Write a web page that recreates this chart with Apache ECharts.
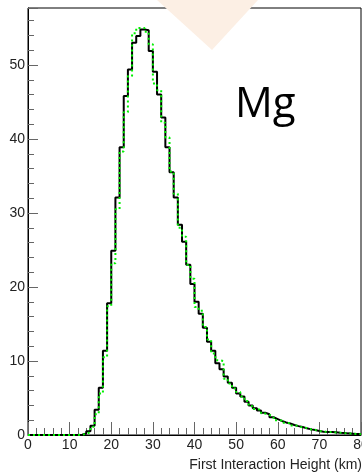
<!DOCTYPE html>
<html>
<head>
<meta charset="utf-8">
<script src="https://cdn.jsdelivr.net/npm/echarts@6/dist/echarts.min.js"></script>
<style>html,body{margin:0;padding:0;background:#fff}#c{width:362px;height:473px}</style>
</head>
<body>
<div id="c"></div>
<script>
// 1-km bins from 0 to 80 km
const binEdges = Array.from({length: 81}, (_, i) => i);
const blackCounts = [0,0,0,0,0,0,0,0,0,0, 0,0,0.05,0.2,0.5,1.25,3.4,6.4,11.4,17.8,
  24.9,32.1,38.9,45.8,49.4,53.0,53.9,54.8,54.7,51.9,
  49.1,46.0,42.9,38.9,35.5,32.1,28.4,26.1,23.0,20.4,
  18.0,16.4,14.5,12.6,11.4,9.7,8.9,7.9,7.05,6.4,
  5.6,5.2,4.5,4.0,3.6,3.3,3.0,2.8,2.4,2.15,
  1.9,1.7,1.55,1.35,1.2,1.08,0.9,0.76,0.67,0.54,
  0.45,0.4,0.4,0.36,0.3,0.27,0.22,0.18,0.13,0.12];
const greenCounts = [0,0,0,0,0,0,0,0,0,0, 0,0,0.05,0.15,0.4,1.1,2.8,5.6,10.5,17.4,
  23.2,30.5,38.3,43.6,48.5,54.3,55.0,55.0,54.5,52.8,
  47.5,46.6,42.2,40.2,35.6,32.6,28.0,26.8,23.0,21.1,
  17.3,16.8,14.6,12.9,11.0,10.1,10.0,7.6,6.95,6.3,
  5.8,5.2,4.6,3.9,3.5,3.4,2.9,2.7,2.5,2.0,
  1.95,1.65,1.6,1.3,1.25,1.0,0.95,0.75,0.7,0.5,
  0.5,0.38,0.42,0.33,0.32,0.25,0.24,0.16,0.15,0.1];
const xTicks = [0,10,20,30,40,50,60,70,80];
const yTicks = [0,10,20,30,40,50];
const xTitle = 'First Interaction Height (km)';
const labelText = 'Mg';

function stepData(counts){
  const d = counts.map((v,i)=>[binEdges[i], v]);
  d.push([binEdges[counts.length], counts[counts.length-1]]);
  return d;
}

const chart = echarts.init(document.getElementById('c'));
const font = 'Liberation Sans';
chart.setOption({
  animation:false,
  grid:{left:28, top:8, right:1, bottom:38, outerBoundsMode:'none', containLabel:false,
    show:true, borderColor:'#000', borderWidth:1, backgroundColor:'transparent'},
  xAxis:{type:'value', min:0, max:80, interval:10,
    axisLine:{show:true, onZero:false, lineStyle:{color:'#000', width:1}},
    axisTick:{show:true, inside:true, length:13, lineStyle:{color:'#666', width:1}},
    minorTick:{show:true, splitNumber:5, length:7, lineStyle:{color:'#666', width:1}},
    splitLine:{show:false},
    axisLabel:{color:'#222', fontFamily:font, fontSize:14, margin:3, hideOverlap:false,
      formatter:v=> xTicks.includes(v) ? String(v) : ''}
  },
  yAxis:{type:'value', min:0, max:57.7, interval:10,
    axisLine:{show:true, lineStyle:{color:'#000', width:1}},
    axisTick:{show:true, inside:true, length:10, lineStyle:{color:'#666', width:1}},
    minorTick:{show:true, splitNumber:5, length:6, lineStyle:{color:'#666', width:1}},
    splitLine:{show:false},
    axisLabel:{color:'#222', fontFamily:font, fontSize:14, margin:3, showMaxLabel:false,
      formatter:v=> yTicks.includes(v) ? String(v) : ''}
  },
  series:[
    {type:'line', step:'end', data:stepData(blackCounts), symbol:'none',
      lineStyle:{color:'#000', width:2}, z:3},
    {type:'line', step:'end', data:stepData(greenCounts), symbol:'none',
      lineStyle:{color:'#00ee00', width:2, type:[2,3]}, z:4}
  ],
  graphic:[
    {type:'polygon', shape:{points:[[157,0],[258,0],[212,50]]}, style:{fill:'#fcefe4'}, z:10},
    {type:'text', x:235, y:105, style:{text:labelText, font:'42px "Open Sans"', fill:'#000', textAlign:'left', textVerticalAlign:'middle'}, z:10},
    {type:'text', x:362, y:465, style:{text:xTitle, font:'14px "Liberation Sans"', fill:'#222', textAlign:'right', textVerticalAlign:'middle'}, z:10}
  ]
});
</script>
</body>
</html>
